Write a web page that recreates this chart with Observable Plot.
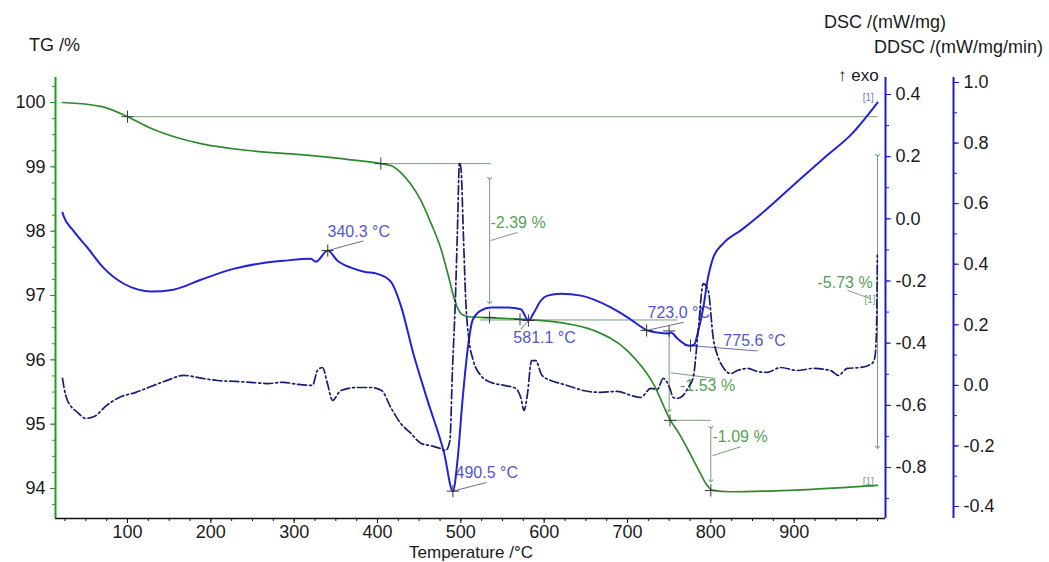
<!DOCTYPE html>
<html><head><meta charset="utf-8">
<script src="https://cdn.jsdelivr.net/npm/d3@7"></script>
<script src="https://cdn.jsdelivr.net/npm/@observablehq/plot@0.6"></script>
<style>
body{margin:0;background:#fff;font-family:"Liberation Sans",Arial,sans-serif;}
#chart{position:relative;width:1049px;height:562px;overflow:hidden;background:#fff;}
#chart svg{position:absolute;left:0;top:0;}
.t{position:absolute;white-space:nowrap;color:#1a1a1a;font-size:18px;line-height:18px;}
</style></head><body>
<div id="chart">
  <div class="t" style="left:29px;top:36px;">TG /%</div>
  <div class="t" style="right:103px;top:13px;">DSC /(mW/mg)</div>
  <div class="t" style="right:6px;top:38px;">DDSC /(mW/mg/min)</div>
  <div class="t" style="left:838px;top:67px;font-size:17px;">↑ exo</div>
  <div class="t" style="left:0;width:942px;text-align:center;top:544px;font-size:17px;line-height:17px;">Temperature /°C</div>
</div>
<script>
// ---------- data ----------
const tgTemp = [22, 68, 100, 128, 158, 188, 248, 308, 368, 404, 416, 428, 440, 452, 464, 476, 485, 491, 496, 502, 510, 523.6, 571.6, 619.6, 659, 700, 731, 751.6, 763, 776, 788, 795, 802, 824, 908, 1000];
const tgVal  = [100.0, 99.94, 99.78, 99.60, 99.46, 99.36, 99.25, 99.19, 99.11, 99.05, 99.02, 98.91, 98.73, 98.48, 98.13, 97.73, 97.31, 97.0, 96.81, 96.70, 96.67, 96.66, 96.63, 96.58, 96.46, 96.14, 95.63, 95.06, 94.83, 94.52, 94.22, 94.06, 93.97, 93.95, 93.98, 94.05];

const dscTemp = [22, 23, 35, 52, 71, 95, 112, 128, 155, 188, 227, 263, 287, 320, 326, 340.3, 352, 368, 384, 400, 416, 428, 443, 460, 480, 490.5, 496, 502, 508, 514, 524, 536, 554, 572, 581.1, 587, 596, 604, 620, 644, 680, 700, 719, 723, 736, 748, 752, 760, 770, 775.6, 780, 785, 791, 796, 803, 815, 836, 860, 908, 940, 968, 1000];
const dscVal  = [0.02, 0.011, -0.038, -0.093, -0.157, -0.208, -0.227, -0.234, -0.228, -0.196, -0.161, -0.142, -0.135, -0.128, -0.138, -0.102, -0.135, -0.157, -0.17, -0.177, -0.202, -0.279, -0.433, -0.584, -0.754, -0.876, -0.777, -0.584, -0.424, -0.327, -0.295, -0.285, -0.285, -0.291, -0.327, -0.305, -0.263, -0.247, -0.241, -0.247, -0.285, -0.317, -0.352, -0.359, -0.366, -0.369, -0.366, -0.385, -0.405, -0.408, -0.405, -0.359, -0.285, -0.198, -0.124, -0.079, -0.037, 0.015, 0.13, 0.205, 0.27, 0.374];

const ddscTemp = [22, 24, 28, 40, 50, 60, 75, 90, 110, 128, 150, 167, 190, 208, 230, 248, 268, 287, 305, 322, 328, 334, 340, 346, 356, 375, 392, 405, 416, 428, 440, 452, 465, 475, 482, 487, 490, 493.5, 496, 498.5, 500.5, 503, 506, 510, 515, 524, 536, 552, 566, 572, 576, 580, 585, 590, 597, 608, 620, 635, 647, 668, 688, 704, 716, 728, 736, 743, 751, 755, 760, 767, 773, 779, 785, 791, 797, 803, 809, 815, 824, 832, 844, 856, 868, 884, 904, 923, 944, 953, 964, 980, 994, 997, 999, 1000];
const ddscVal  = [0.023, -0.01, -0.05, -0.089, -0.109, -0.103, -0.066, -0.04, -0.023, -0.004, 0.019, 0.033, 0.023, 0.016, 0.013, 0.01, 0.006, 0.01, 0.003, 0.0, 0.049, 0.059, 0.006, -0.05, -0.017, -0.007, -0.007, -0.017, -0.073, -0.126, -0.158, -0.191, -0.2, -0.208, -0.215, -0.182, 0.049, 0.28, 0.511, 0.736, 0.709, 0.511, 0.28, 0.148, 0.082, 0.033, 0.01, 0.0, -0.01, -0.04, -0.083, -0.03, 0.082, 0.082, 0.035, 0.016, 0.006, -0.007, -0.017, -0.023, -0.02, -0.033, -0.04, -0.01, -0.013, 0.023, -0.01, -0.04, -0.043, -0.033, -0.007, 0.026, 0.181, 0.336, 0.313, 0.158, 0.092, 0.059, 0.039, 0.049, 0.056, 0.046, 0.043, 0.059, 0.049, 0.056, 0.049, 0.033, 0.056, 0.059, 0.073, 0.092, 0.181, 0.429];

const xTicks = [100, 200, 300, 400, 500, 600, 700, 800, 900];
const xMinorTicks = d3.range(25, 1001, 25);
const tgTicks = [94, 95, 96, 97, 98, 99, 100];
const tgMinorTicks = d3.range(93.75, 100.3, 0.25);
const dscTicks = [-0.8, -0.6, -0.4, -0.2, 0.0, 0.2, 0.4];
const dscMinorTicks = d3.range(-0.9, 0.45, 0.1);
const ddscTicks = [-0.4, -0.2, 0.0, 0.2, 0.4, 0.6, 0.8, 1.0];
const ddscMinorTicks = d3.range(-0.4, 1.01, 0.1);

// DSC peak annotations
const peakTemp  = [340.3, 490.5, 581.1, 723.0, 775.6];
const peakDsc   = [-0.102, -0.876, -0.327, -0.359, -0.408];
const peakLabel = ["340.3 °C", "490.5 °C", "581.1 °C", "723.0 °C", "775.6 °C"];
const peakLabelTemp = [340, 493.6, 563, 724, 815];
const peakLabelDsc  = [-0.041, -0.816, -0.382, -0.302, -0.392];
const peakLeaderTemp = [383, 531, 572, 767, 856];
const peakLeaderDsc  = [-0.071, -0.848, -0.355, -0.333, -0.425];

// TG mass-loss step annotations
const stepLabel = ["-2.39 %", "-1.53 %", "-1.09 %", "-5.73 %"];
const stepTemp  = [534.5, 750, 800, 1000];
const stepFrom  = [98.82, 96.41, 94.95, 99.18];
const stepTo    = [96.89, 95.21, 94.12, 94.64];
const stepLabelTemp = [535.6, 763, 802, 928];
const stepLabelTG   = [98.135, 95.60, 94.81, 97.20];
const stepLeaderT1 = [535.6, 752, 802, 964];
const stepLeaderV1 = [97.855, 95.80, 94.51, 97.08];
const stepLeaderT2 = [568, 805.6, 836, 992];
const stepLeaderV2 = [97.98, 95.71, 94.65, 96.95];

// TG guide lines
const guideT1 = [100, 404, 523, 749];
const guideT2 = [1000, 536, 760, 800];
const guideTG = [99.78, 99.05, 96.62, 95.06];

// TG markers
const tgMarkTemp = [100, 404, 534.5, 571, 750, 751, 800];
const tgMarkVal  = [99.78, 99.05, 96.66, 96.63, 96.45, 95.06, 93.97];

// ---------- build ----------
const W = 1049, H = 562;
const xDom = [13.6, 1009.6], xDomD = [13.6, 1091.4];
const tgDom = [93.534, 100.389], dscDom = [-0.964, 0.4547], ddscDom = [-0.4396, 1.0165];

const GREEN = "#2f8a2f", AXGREEN = "#1e9e1e", BLUE = "#2323d6", AXBLUE = "#1c1cc8", NAVY = "#1c1c70";
const LABBLUE = "#5656c8", LABGREEN = "#57a057", GUIDE = "#7a9e7a";
const FONT = "Liberation Sans, Arial, sans-serif";

const tg = tgTemp.map((t, i) => ({t, v: tgVal[i]}));
const dsc = dscTemp.map((t, i) => ({t, v: dscVal[i]}));
const ddsc = ddscTemp.map((t, i) => ({t, v: ddscVal[i]}));
const peaks = peakTemp.map((t, i) => ({t, v: peakDsc[i], label: peakLabel[i], lt: peakLabelTemp[i], lv: peakLabelDsc[i], et: peakLeaderTemp[i], ev: peakLeaderDsc[i]}));
const steps = stepTemp.map((t, i) => ({t, a: stepFrom[i], b: stepTo[i], label: stepLabel[i], lt: stepLabelTemp[i], lv: stepLabelTG[i], t1: stepLeaderT1[i], v1: stepLeaderV1[i], t2: stepLeaderT2[i], v2: stepLeaderV2[i]}));
const guides = guideT1.map((t1, i) => ({t1, t2: guideT2[i], v: guideTG[i]}));
const tgMarks = tgMarkTemp.map((t, i) => ({t, v: tgMarkVal[i]}));

const common = {width: W, height: H, marginTop: 77, marginBottom: 44, marginLeft: 55,
  style: {background: "transparent", fontFamily: FONT, fontSize: "18px", overflow: "visible"}};

const tgPlot = Plot.plot({
  ...common, marginRight: 164,
  x: {domain: xDom}, y: {domain: tgDom},
  marks: [
    Plot.link(guides, {x1: "t1", x2: "t2", y1: "v", y2: "v", stroke: GUIDE, strokeWidth: 1}),
    Plot.link(steps, {x1: "t", x2: "t", y1: "a", y2: "b", stroke: GUIDE, strokeWidth: 1, markerStart: "arrow", markerEnd: "arrow"}),
    Plot.link(steps, {x1: "t1", y1: "v1", x2: "t2", y2: "v2", stroke: GUIDE, strokeWidth: 1}),
    Plot.text(steps, {x: "lt", y: "lv", text: "label", textAnchor: "start", lineAnchor: "middle", fill: LABGREEN, fontSize: 16}),
    Plot.text([{t: 989, v: 94.1}, {t: 991, v: 96.93}], {x: "t", y: "v", text: () => "[1]", fill: GUIDE, fontSize: 10, lineAnchor: "middle"}),
    Plot.line(tg, {x: "t", y: "v", stroke: GREEN, strokeWidth: 1.7, curve: "monotone-x"}),
    Plot.dot(tgMarks, {x: "t", y: "v", symbol: "plus", r: 4, stroke: "#3a3a3a", strokeWidth: 1}),
    Plot.ruleX([xDom[0]], {stroke: AXGREEN, strokeWidth: 2}),
    Plot.ruleY([tgDom[0]], {stroke: "#111", strokeWidth: 1.5}),
    Plot.axisY(tgTicks, {anchor: "left", tickSize: 5, tickPadding: 5, stroke: AXGREEN, fill: "#1a1a1a", fontSize: 18, tickFormat: d => String(d), label: null}),
    Plot.axisY(tgMinorTicks, {anchor: "left", tickSize: 3, stroke: AXGREEN, fill: "none", label: null}),
    Plot.axisX(xTicks, {anchor: "bottom", tickSize: 5, tickPadding: 2, stroke: "#111", fill: "#1a1a1a", fontSize: 18, label: null}),
    Plot.axisX(xMinorTicks, {anchor: "bottom", tickSize: 3, stroke: "#111", fill: "none", label: null})
  ]
});

const dscPlot = Plot.plot({
  ...common, marginRight: 164,
  x: {domain: xDom, axis: null}, y: {domain: dscDom},
  marks: [
    Plot.link(peaks, {x1: "t", y1: "v", x2: "et", y2: "ev", stroke: "#6a6aa8", strokeWidth: 1}),
    Plot.text(peaks, {x: "lt", y: "lv", text: "label", textAnchor: "start", lineAnchor: "middle", fill: LABBLUE, fontSize: 16}),
    Plot.text([{t: 989, v: 0.39}], {x: "t", y: "v", text: () => "[1]", fill: "#7a7ab8", fontSize: 10, lineAnchor: "middle"}),
    Plot.line(dsc, {x: "t", y: "v", stroke: BLUE, strokeWidth: 2, curve: "monotone-x"}),
    Plot.dot(peaks, {x: "t", y: "v", symbol: "plus", r: 4, stroke: "#333", strokeWidth: 1}),
    Plot.ruleX([xDom[1]], {stroke: AXBLUE, strokeWidth: 2}),
    Plot.axisY(dscTicks, {anchor: "right", tickSize: 5, tickPadding: 5, stroke: AXBLUE, fill: "#1a1a1a", fontSize: 18, tickFormat: d => d.toFixed(1), label: null}),
    Plot.axisY(dscMinorTicks, {anchor: "right", tickSize: 3, stroke: AXBLUE, fill: "none", label: null})
  ]
});

const ddscPlot = Plot.plot({
  ...common, marginRight: 96,
  x: {domain: xDomD, axis: null}, y: {domain: ddscDom},
  marks: [
    Plot.line(ddsc, {x: "t", y: "v", stroke: NAVY, strokeWidth: 1.7, strokeDasharray: "9,3,2,3", curve: "monotone-x"}),
    Plot.ruleX([xDomD[1]], {stroke: AXBLUE, strokeWidth: 2}),
    Plot.axisY(ddscTicks, {anchor: "right", tickSize: 5, tickPadding: 5, stroke: AXBLUE, fill: "#1a1a1a", fontSize: 18, tickFormat: d => d.toFixed(1), label: null}),
    Plot.axisY(ddscMinorTicks, {anchor: "right", tickSize: 3, stroke: AXBLUE, fill: "none", label: null})
  ]
});

const chart = document.getElementById("chart");
chart.prepend(ddscPlot);
chart.prepend(dscPlot);
chart.prepend(tgPlot);
</script>
</body></html>
